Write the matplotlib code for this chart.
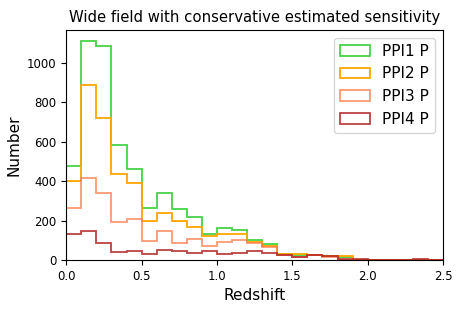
import numpy as np
import matplotlib as mpl
mpl.use('Agg')
from matplotlib import pyplot as plt

# redshift bins, width 0.1 from 0 to 2.5
edges = np.round(np.arange(0, 2.51, 0.1), 2)

# counts per bin
ppi1 = [476, 1107, 1086, 581, 461, 266, 342, 261, 221, 134, 162, 152, 101,
        84, 30, 28, 28, 20, 15, 0, 0, 0, 0, 0, 0]
ppi2 = [400, 889, 721, 436, 390, 200, 237, 197, 170, 120, 132, 132, 93,
        74, 30, 30, 28, 20, 22, 0, 0, 0, 0, 0, 0]
ppi3 = [266, 416, 342, 193, 210, 99, 147, 88, 106, 72, 90, 100, 88,
        67, 28, 18, 25, 15, 0, 0, 0, 0, 0, 0, 0]
ppi4 = [135, 147, 88, 42, 47, 32, 54, 46, 34, 47, 30, 37, 44,
        34, 25, 15, 25, 22, 8, 6, 0, 0, 0, 8, 0]

series = [ppi1, ppi2, ppi3, ppi4]
labels = ["PPI1 P", "PPI2 P", "PPI3 P", "PPI4 P"]
colo = ['limegreen', 'orange', 'coral', 'firebrick']
alph = [0.9, 1.0, 0.8, 0.85]

centers = 0.5 * (edges[:-1] + edges[1:])

fig, ax = plt.subplots(figsize=(4.63, 3.09), dpi=100)
fig.subplots_adjust(left=0.143, right=0.957, top=0.903, bottom=0.158)

for i in range(len(series)):
  ax.hist(centers, bins=edges, weights=series[i], histtype='step',
          color=colo[i], alpha=alph[i], linewidth=1.3, label=labels[i])

ax.set_xlim(0, 2.5)
ax.set_ylim(0, 1165)
ax.set_xticks([0.0, 0.5, 1.0, 1.5, 2.0, 2.5])
ax.set_yticks([0, 200, 400, 600, 800, 1000])
ax.tick_params(labelsize=8.5)
ax.set_xlabel("Redshift", fontsize=11)
ax.set_ylabel("Number", fontsize=11)
ax.set_title("Wide field with conservative estimated sensitivity", fontsize=10.7)
ax.legend(loc="upper right", fontsize=11)

fig.savefig("out.png", dpi=100)
